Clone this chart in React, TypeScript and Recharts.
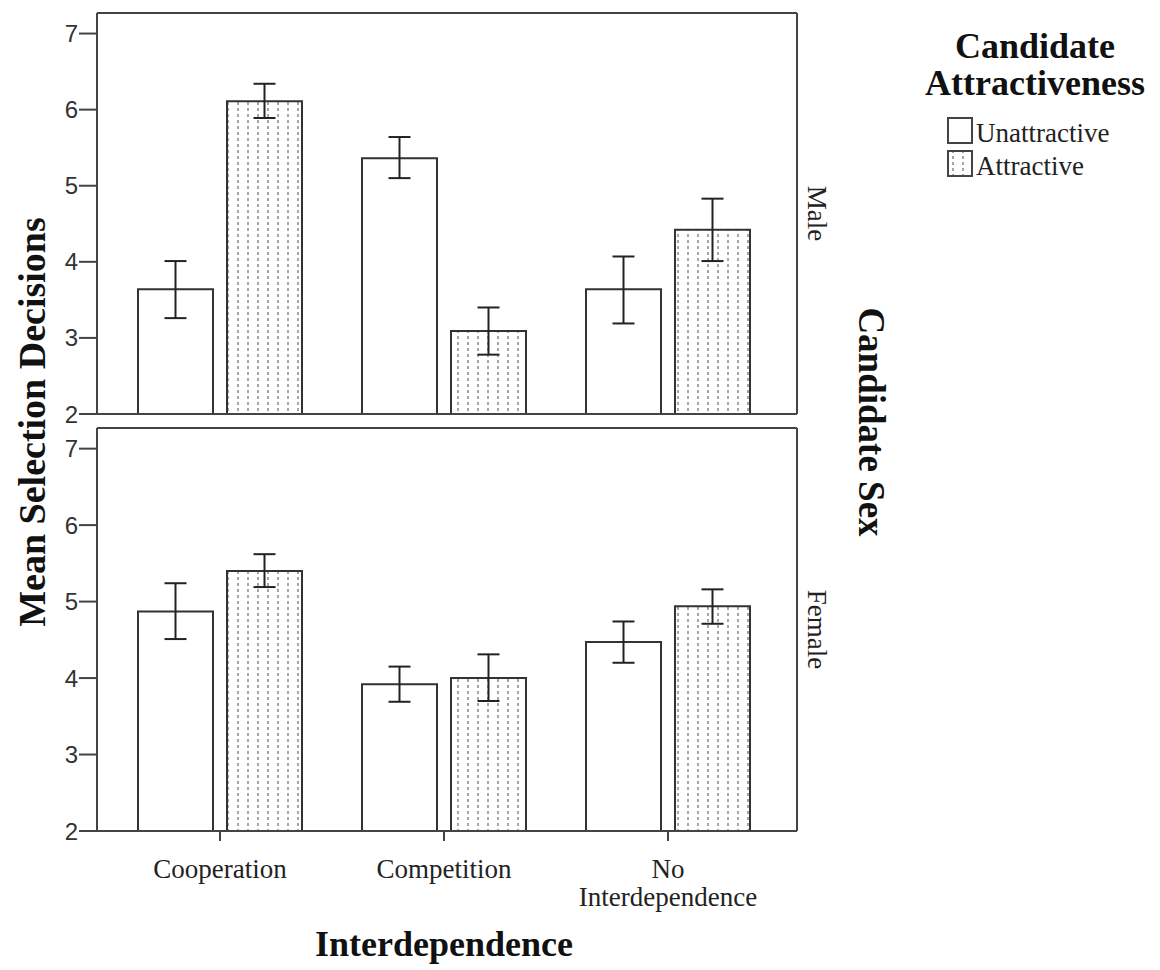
import React from 'react';
import { BarChart, Bar, XAxis, YAxis, ErrorBar, Legend } from 'recharts';

// interdependence conditions (x categories)
const categories = ['Cooperation', 'Competition', 'No Interdependence'];
const yTicks = [2, 3, 4, 5, 6, 7];

// Male candidates
const maleUnattractive = [3.64, 5.36, 3.64];
const maleUnattractiveCI = [[3.26, 4.01], [5.1, 5.64], [3.19, 4.07]];
const maleAttractive = [6.11, 3.09, 4.42];
const maleAttractiveCI = [[5.89, 6.34], [2.78, 3.4], [4.01, 4.83]];

// Female candidates
const femaleUnattractive = [4.87, 3.92, 4.47];
const femaleUnattractiveCI = [[4.51, 5.24], [3.69, 4.15], [4.2, 4.74]];
const femaleAttractive = [5.4, 4.0, 4.94];
const femaleAttractiveCI = [[5.19, 5.62], [3.7, 4.31], [4.71, 5.16]];

const seriesNames = ['Unattractive', 'Attractive'];
const seriesFills = ['#ffffff', 'url(#dotsFill)'];

const SERIF = '"Liberation Serif", "Times New Roman", serif';
const SANS = '"Liberation Sans", Arial, sans-serif';
const LINE = '#444';

const buildRows = (u: number[], uCI: number[][], a: number[], aCI: number[][]) =>
  categories.map((name, i) => ({
    name,
    unattr: u[i],
    unattrErr: [u[i] - uCI[i][0], uCI[i][1] - u[i]],
    attr: a[i],
    attrErr: [a[i] - aCI[i][0], aCI[i][1] - a[i]],
  }));

const maleRows = buildRows(maleUnattractive, maleUnattractiveCI, maleAttractive, maleAttractiveCI);
const femaleRows = buildRows(femaleUnattractive, femaleUnattractiveCI, femaleAttractive, femaleAttractiveCI);

const CategoryTick = (props: any) => {
  const { x, y, payload } = props;
  const lines = payload.value.length > 14 ? payload.value.split(' ') : [payload.value];
  return (
    <text x={x} y={y} textAnchor="middle" fontFamily={SERIF} fontSize={27} fill="#222">
      {lines.map((l: string, i: number) => (
        <tspan key={i} x={x} dy={i === 0 ? 35 : 28}>{l}</tspan>
      ))}
    </text>
  );
};

const facetLabel = (text: string) => (props: any) => {
  const vb = props.viewBox;
  const cx = vb.x + 20;
  const cy = vb.y + vb.height / 2;
  return (
    <text x={cx} y={cy} transform={`rotate(90, ${cx}, ${cy})`} textAnchor="middle"
      dominantBaseline="central" fontFamily={SERIF} fontSize={27} fill="#222">
      {text}
    </text>
  );
};

const LegendBox = () => (
  <svg width={240} height={190}>
    <text x={120} y={58} textAnchor="middle" fontFamily={SERIF} fontWeight="bold" fontSize={36} fill="#111">Candidate</text>
    <text x={120} y={95} textAnchor="middle" fontFamily={SERIF} fontWeight="bold" fontSize={36} fill="#111">Attractiveness</text>
    {seriesNames.map((n, i) => (
      <g key={n}>
        <rect x={33} y={118 + i * 33} width={24} height={25} fill={seriesFills[i]} stroke={LINE} strokeWidth={2} />
        <text x={61} y={142 + i * 33} fontFamily={SERIF} fontSize={27} fill="#222">{n}</text>
      </g>
    ))}
  </svg>
);

const Panel = ({ rows, facet, bottom }: { rows: any[]; facet: string; bottom: boolean }) => (
  <BarChart
    width={1160}
    height={bottom ? 550 : 440}
    data={rows}
    margin={bottom ? { top: 6, right: 362, left: 37, bottom: 40 } : { top: 12, right: 362, left: 37, bottom: 25 }}
    barSize={75}
    barGap={14}
  >
    <XAxis
      dataKey="name"
      padding={{ left: 11, right: 17 }}
      axisLine={{ stroke: LINE, strokeWidth: 2 }}
      tickLine={bottom ? { stroke: LINE, strokeWidth: 2 } : false}
      tickSize={10}
      tick={bottom ? <CategoryTick /> : false}
      height={bottom ? 100 : 1}
      interval={0}
      label={
        bottom
          ? (p: any) => (
              <text x={p.viewBox.x + p.viewBox.width / 2 - 3} y={p.viewBox.y + 125} textAnchor="middle"
                fontFamily={SERIF} fontWeight="bold" fontSize={36} fill="#111">
                Interdependence
              </text>
            )
          : undefined
      }
    />
    <XAxis xAxisId="top" dataKey="name" orientation="top" height={1} tick={false} tickLine={false}
      axisLine={{ stroke: LINE, strokeWidth: 2 }} />
    <YAxis
      domain={[2, 7.27]}
      ticks={yTicks}
      interval={0}
      allowDataOverflow
      width={60}
      tickSize={18}
      tickMargin={1}
      axisLine={{ stroke: LINE, strokeWidth: 2 }}
      tickLine={{ stroke: LINE, strokeWidth: 2 }}
      tick={{ fontFamily: SANS, fontSize: 24, fill: '#333' }}
    />
    <YAxis yAxisId="r" orientation="right" domain={[2, 7.27]} width={1} tick={false} tickLine={false}
      axisLine={{ stroke: LINE, strokeWidth: 2 }} label={facetLabel(facet)} />
    {!bottom && (
      <Legend
        layout="vertical"
        align="center"
        verticalAlign="middle"
        width={240}
        wrapperStyle={{ top: 0, left: 915 }}
        content={() => <LegendBox />}
      />
    )}
    <Bar dataKey="unattr" name={seriesNames[0]} fill={seriesFills[0]} stroke="#333" strokeWidth={2} isAnimationActive={false}>
      <ErrorBar dataKey="unattrErr" direction="y" width={11} stroke="#222" strokeWidth={2} />
    </Bar>
    <Bar dataKey="attr" name={seriesNames[1]} fill={seriesFills[1]} stroke="#333" strokeWidth={2} isAnimationActive={false}>
      <ErrorBar dataKey="attrErr" direction="y" width={11} stroke="#222" strokeWidth={2} />
    </Bar>
  </BarChart>
);

export default function App() {
  return (
    <div style={{ position: 'absolute', left: 0, top: 0, width: 1160, height: 970, background: '#fff' }}>
      <svg width={0} height={0} style={{ position: 'absolute' }}>
        <defs>
          <pattern id="dotsFill" width={10} height={6} patternUnits="userSpaceOnUse">
            <rect width={10} height={6} fill="#fff" />
            <line x1={8} x2={8} y1={0} y2={3} stroke="#888" strokeWidth={1.5} />
          </pattern>
        </defs>
      </svg>
      <div style={{ position: 'absolute', left: 0, top: 421 }}>
        <Panel rows={femaleRows} facet="Female" bottom />
      </div>
      <div style={{ position: 'absolute', left: 0, top: 0 }}>
        <Panel rows={maleRows} facet="Male" bottom={false} />
      </div>
      <svg width={1160} height={970} style={{ position: 'absolute', left: 0, top: 0, pointerEvents: 'none' }}>
        <text x={32} y={422} transform="rotate(-90, 32, 422)" textAnchor="middle" dominantBaseline="central"
          fontFamily={SERIF} fontWeight="bold" fontSize={38} fill="#111">
          Mean Selection Decisions
        </text>
        <text x={871} y={422} transform="rotate(90, 871, 422)" textAnchor="middle" dominantBaseline="central"
          fontFamily={SERIF} fontWeight="bold" fontSize={37} fill="#111">
          Candidate Sex
        </text>
      </svg>
    </div>
  );
}
